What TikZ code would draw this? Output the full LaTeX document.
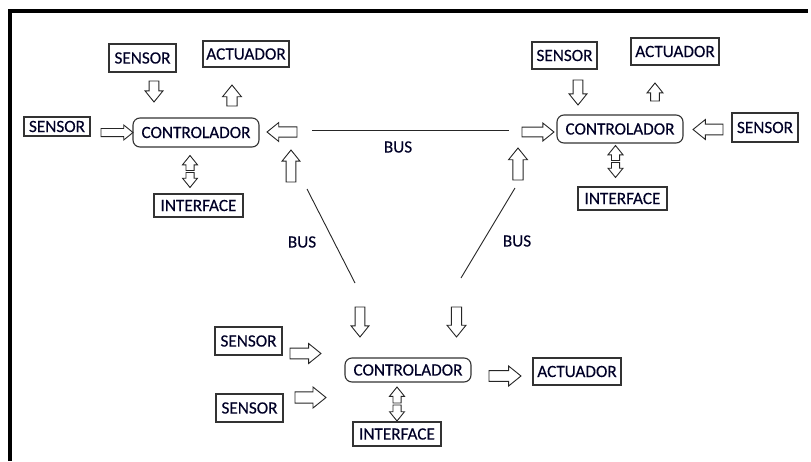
\documentclass[tikz,border=0pt]{standalone}
\usepackage{fontspec}
\setmainfont{Carlito}[FakeBold=0.25]
\newcommand\blockarrow[5]{%
  \draw[barrow, shift={(#1,#2)}, rotate=#3]
    ({-#4/2},{-0.27*#5}) -- ({#4/2-0.62*#5},{-0.27*#5}) -- ({#4/2-0.62*#5},{-#5/2})
    -- ({#4/2},0) -- ({#4/2-0.62*#5},{#5/2}) -- ({#4/2-0.62*#5},{0.27*#5})
    -- ({-#4/2},{0.27*#5}) -- cycle;}
\tikzset{
  box/.style={draw=black!80, line width=1.1pt, inner sep=0pt, font=\fontsize{17.2}{19}\selectfont, text=black!85!blue},
  ctrl/.style={box, rounded corners=7pt},
  barrow/.style={draw=black!85, line width=0.9pt, fill=white},
  bus/.style={draw=black!85, line width=0.9pt},
  lab/.style={inner sep=0pt, font=\fontsize{17.2}{19}\selectfont, text=black!85!blue},
}
\begin{document}
\begin{tikzpicture}[x=1pt,y=-1pt]
\useasboundingbox (0,0) rectangle (811,461);
% frame
\draw[line width=4pt] (10,461) -- (10,10.5) -- (808,10.5);
\draw[line width=3pt] (8,10.5) -- (808,10.5);
% top-left cluster
\node[box, minimum width=67pt, minimum height=28pt] (s1a) at (142.5,58) {SENSOR};
\node[box, minimum width=86pt, minimum height=26pt] (a1) at (246,54) {ACTUADOR};
\node[box, minimum width=66pt, minimum height=19pt] (s1b) at (57,126.5) {SENSOR};
\node[ctrl, minimum width=126pt, minimum height=29pt] (c1) at (196,132.5) {CONTROLADOR};
\node[box, minimum width=89pt, minimum height=23pt] (i1) at (198.5,205.5) {INTERFACE};
\blockarrow{154}{91.5}{270}{21}{18}
\blockarrow{232}{95.5}{90}{21}{19}
\blockarrow{117}{132.5}{0}{32}{15}
\blockarrow{282}{132}{180}{30}{19}
\blockarrow{291}{166}{90}{32}{18}
\blockarrow{190}{163}{90}{15}{15}
\blockarrow{190}{180}{270}{15}{15}
% top-right cluster
\node[box, minimum width=65pt, minimum height=27pt] (s2a) at (564.5,55.5) {SENSOR};
\node[box, minimum width=88pt, minimum height=27pt] (a2) at (675,51.5) {ACTUADOR};
\node[ctrl, minimum width=126pt, minimum height=28pt] (c2) at (620,129) {CONTROLADOR};
\node[box, minimum width=66pt, minimum height=29pt] (s2b) at (765,127.5) {SENSOR};
\node[box, minimum width=89pt, minimum height=23pt] (i2) at (622.5,198.5) {INTERFACE};
\blockarrow{578}{92.5}{270}{25}{18}
\blockarrow{655}{92}{90}{18}{16}
\blockarrow{538}{132}{0}{32}{18}
\blockarrow{708}{129.5}{180}{30}{20}
\blockarrow{518}{164}{90}{32}{19}
\blockarrow{615.5}{153}{90}{15}{15}
\blockarrow{615.5}{170}{270}{15}{15}
% bottom cluster
\node[box, minimum width=67pt, minimum height=28pt] (s3a) at (248.5,341) {SENSOR};
\node[box, minimum width=67pt, minimum height=28pt] (s3b) at (249.5,408) {SENSOR};
\node[ctrl, minimum width=126pt, minimum height=24pt] (c3) at (408,370) {CONTROLADOR};
\node[box, minimum width=88pt, minimum height=27pt] (a3) at (577,371.5) {ACTUADOR};
\node[box, minimum width=88pt, minimum height=24pt] (i3) at (397,434) {INTERFACE};
\blockarrow{360}{322}{270}{30}{18}
\blockarrow{456.5}{322}{270}{30}{19}
\blockarrow{305.5}{353.5}{0}{31}{20}
\blockarrow{310.5}{397.5}{0}{31}{21}
\blockarrow{505}{376}{0}{32}{20}
\blockarrow{397}{395}{90}{16}{15}
\blockarrow{397}{413}{270}{16}{15}
% buses
\coordinate (b1a) at (312,130);
\coordinate (b1b) at (509,130);
\coordinate (b2a) at (307,189);
\coordinate (b2b) at (355,283);
\coordinate (b3a) at (515,188);
\coordinate (b3b) at (461,278);
\draw[bus] (b1a) -- (b1b);
\draw[bus] (b2a) -- (b2b);
\draw[bus] (b3a) -- (b3b);
\node[lab] (l1) at (398,147) {BUS};
\node[lab] (l2) at (302,242) {BUS};
\node[lab] (l3) at (517,241) {BUS};
\end{tikzpicture}
\end{document}
